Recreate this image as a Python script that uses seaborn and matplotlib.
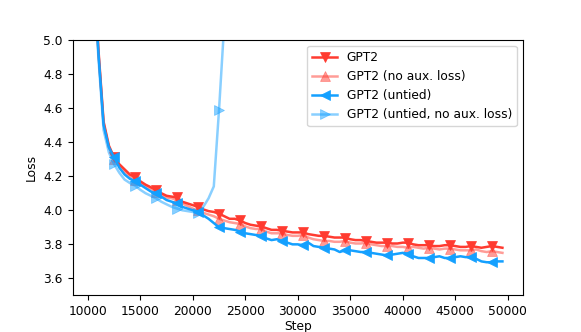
#Import Libraries
import numpy as np
import pandas as pd
import matplotlib
matplotlib.use('Agg')
import matplotlib.pyplot as plt
import seaborn as sns

#Training steps (every 500 steps)
steps = list(range(10500, 50000, 500))

#Loss curves
gpt2 = [5.50, 4.95, 4.52, 4.38, 4.31, 4.27, 4.24, 4.21, 4.195, 4.17,
        4.15, 4.135, 4.12, 4.10, 4.085, 4.08, 4.075, 4.05, 4.04, 4.03,
        4.02, 4.005, 3.995, 3.99, 3.98, 3.965, 3.95, 3.95, 3.94, 3.925,
        3.915, 3.91, 3.905, 3.895, 3.885, 3.885, 3.88, 3.875, 3.87, 3.87,
        3.87, 3.86, 3.855, 3.85, 3.85, 3.845, 3.84, 3.84, 3.84, 3.83,
        3.825, 3.825, 3.82, 3.815, 3.81, 3.81, 3.81, 3.805, 3.805, 3.81,
        3.81, 3.80, 3.795, 3.795, 3.795, 3.79, 3.79, 3.795, 3.795, 3.79,
        3.785, 3.785, 3.79, 3.785, 3.78, 3.785, 3.79, 3.785, 3.78]

gpt2_no_aux = [5.48, 4.93, 4.51, 4.37, 4.30, 4.26, 4.225, 4.20, 4.18, 4.16,
               4.14, 4.125, 4.11, 4.09, 4.075, 4.07, 4.06, 4.04, 4.025, 4.01,
               4.00, 3.985, 3.975, 3.965, 3.95, 3.94, 3.93, 3.925, 3.92, 3.905,
               3.895, 3.89, 3.89, 3.875, 3.865, 3.865, 3.865, 3.855, 3.85, 3.85,
               3.855, 3.84, 3.83, 3.825, 3.82, 3.82, 3.815, 3.815, 3.82, 3.81,
               3.805, 3.805, 3.81, 3.80, 3.795, 3.79, 3.79, 3.79, 3.785, 3.785,
               3.78, 3.785, 3.78, 3.775, 3.78, 3.775, 3.77, 3.775, 3.775, 3.77,
               3.765, 3.765, 3.765, 3.77, 3.76, 3.755, 3.76, 3.755, 3.75]

gpt2_untied = [5.52, 4.93, 4.50, 4.37, 4.31, 4.25, 4.21, 4.185, 4.17, 4.15,
               4.13, 4.11, 4.10, 4.08, 4.06, 4.05, 4.04, 4.02, 4.01, 4.00,
               3.99, 3.97, 3.95, 3.925, 3.90, 3.895, 3.89, 3.885, 3.875, 3.865,
               3.86, 3.855, 3.85, 3.835, 3.825, 3.83, 3.82, 3.81, 3.80, 3.80,
               3.795, 3.81, 3.79, 3.785, 3.78, 3.775, 3.77, 3.755, 3.765, 3.765,
               3.76, 3.755, 3.755, 3.75, 3.745, 3.74, 3.735, 3.74, 3.745, 3.75,
               3.745, 3.73, 3.72, 3.72, 3.72, 3.725, 3.73, 3.72, 3.72, 3.725,
               3.73, 3.725, 3.725, 3.715, 3.70, 3.695, 3.695, 3.70, 3.70]

#untied without aux. loss diverges after ~22000 steps
gpt2_untied_no_aux = [5.45, 4.90, 4.47, 4.34, 4.27, 4.22, 4.18, 4.16, 4.145, 4.12,
                      4.10, 4.085, 4.07, 4.05, 4.035, 4.02, 4.01, 4.00, 3.995, 3.99,
                      3.985, 4.02, 4.07, 4.14, 4.59, 5.10, 5.80]

#Line styles per run: (label, values, color, alpha, marker)
runs = [('GPT2', gpt2, '#ff3b30', 1.0, 'v'),
        ('GPT2 (no aux. loss)', gpt2_no_aux, '#ff3b30', 0.5, '^'),
        ('GPT2 (untied)', gpt2_untied, '#14a0ff', 1.0, '<'),
        ('GPT2 (untied, no aux. loss)', gpt2_untied_no_aux, '#14a0ff', 0.5, '>')]

plt.rcParams['font.size'] = 8.8

fig, ax = plt.subplots(figsize=(5.81, 3.32), dpi=100)
for label, vals, color, alpha, marker in runs:
    df = pd.DataFrame({'Step': steps[:len(vals)], 'Loss': vals})
    sns.lineplot(data=df, x='Step', y='Loss', ax=ax, color=color, alpha=alpha,
                 marker=marker, markevery=4, markersize=7, markeredgewidth=0.5,
                 markeredgecolor=color, linewidth=1.8, label=label)

ax.set_ylim(3.5, 5.0)
ax.set_xlim(8550, 51450)
ax.set_xlabel('Step', labelpad=1.5)
ax.set_ylabel('Loss')
ax.legend(loc='upper right', fontsize=8.8)

plt.savefig('out.png', dpi=100)
